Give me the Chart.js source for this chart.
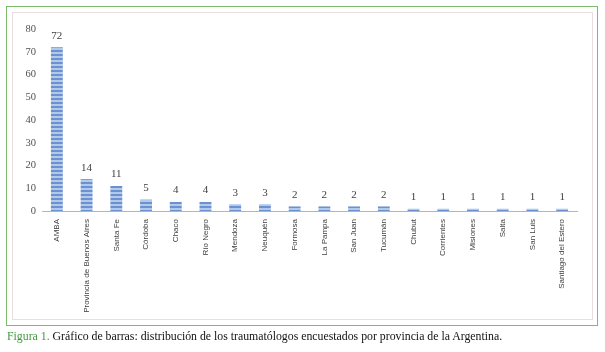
<!DOCTYPE html>
<html>
<head>
<meta charset="utf-8">
<script src="https://cdn.jsdelivr.net/npm/chart.js@4/dist/chart.umd.min.js"></script>
<style>
  html, body { margin: 0; padding: 0; background: #ffffff; }
  #wrap { position: relative; width: 605px; height: 352px; overflow: hidden; }
  #outer { position: absolute; left: 6px; top: 6px; width: 590px; height: 318px; border: 1.5px solid #7cba6e; }
  #inner { position: absolute; left: 12px; top: 12px; width: 579px; height: 306px; border: 1px solid #e6e0e0; }
  #cv { position: absolute; left: 0; top: 0; }
  #caption { position: absolute; left: 7px; top: 329px; font-family: "Liberation Serif", "Times New Roman", serif; font-size: 11.8px; color: #111; white-space: nowrap; }
  #caption .fig { color: #3d9a3d; }
</style>
</head>
<body>
<div id="wrap">
  <div id="outer"></div>
  <div id="inner"></div>
  <canvas id="cv" width="605" height="352"></canvas>
  <div id="caption"><span class="fig">Figura 1.</span> Gráfico de barras: distribución de los traumatólogos encuestados por provincia de la Argentina.</div>
</div>
<script>
const categories = ["AMBA", "Provincia de Buenos Aires", "Santa Fe", "Córdoba", "Chaco", "Río Negro", "Mendoza", "Neuquén", "Formosa", "La Pampa", "San Juan", "Tucumán", "Chubut", "Corrientes", "Misiones", "Salta", "San Luis", "Santiago del Estero"];
const values = [72, 14, 11, 5, 4, 4, 3, 3, 2, 2, 2, 2, 1, 1, 1, 1, 1, 1];
const yTicks = [0, 10, 20, 30, 40, 50, 60, 70, 80];

// striped bar fill
const pc = document.createElement('canvas');
pc.width = 4; pc.height = 4;
const pctx = pc.getContext('2d');
pctx.fillStyle = '#b3c9ea'; pctx.fillRect(0, 0, 4, 4);
pctx.fillStyle = '#6c91d0'; pctx.fillRect(0, 2, 4, 2);
const ctx = document.getElementById('cv').getContext('2d');
const stripe = ctx.createPattern(pc, 'repeat');

const valueLabels = {
  id: 'valueLabels',
  afterDatasetsDraw(chart) {
    const c = chart.ctx;
    const meta = chart.getDatasetMeta(0);
    c.save();
    c.font = '11px "Liberation Serif", serif';
    c.fillStyle = '#404040';
    c.textAlign = 'center';
    c.textBaseline = 'bottom';
    meta.data.forEach((el, i) => {
      c.fillText(String(chart.data.datasets[0].data[i]), el.x, el.y - 6);
    });
    c.restore();
  }
};

new Chart(ctx, {
  type: 'bar',
  data: {
    labels: categories,
    datasets: [{
      data: values,
      backgroundColor: stripe,
      borderWidth: 0,
      barPercentage: 0.8,
      categoryPercentage: 0.5
    }]
  },
  plugins: [valueLabels],
  options: {
    responsive: false,
    animation: false,
    events: [],
    layout: { padding: { left: 0, right: 28, top: 29, bottom: 0 } },
    plugins: { legend: { display: false }, tooltip: { enabled: false } },
    scales: {
      x: {
        grid: { display: false, drawTicks: false },
        border: { display: true, color: '#a9b6cc', width: 1 },
        ticks: {
          minRotation: 90, maxRotation: 90, autoSkip: false, padding: 8,
          color: '#404040',
          font: { family: '"Liberation Sans", Arial, sans-serif', size: 8 }
        },
        afterFit(s) { s.height = 141; }
      },
      y: {
        min: 0, max: 80,
        afterBuildTicks(s) { s.ticks = yTicks.map(v => ({ value: v })); },
        grid: { display: false, drawTicks: false },
        border: { display: false },
        ticks: {
          padding: 6,
          color: '#505050',
          font: { family: '"Liberation Serif", serif', size: 10.5 }
        },
        afterFit(s) { s.width = 42; }
      }
    }
  }
});
</script>
</body>
</html>
